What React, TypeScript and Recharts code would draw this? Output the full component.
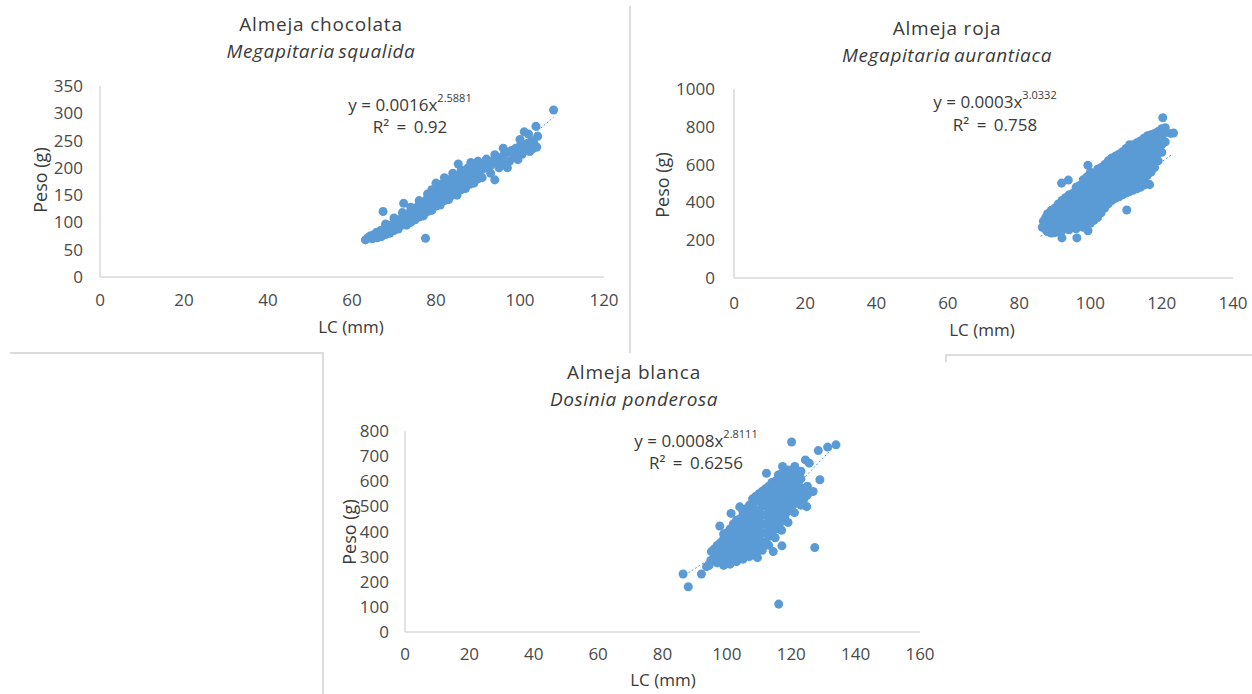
import React from 'react';
import { ScatterChart, Scatter, XAxis, YAxis, ZAxis } from 'recharts';

// ---------- Data ----------
const chocolataXTicks = [0, 20, 40, 60, 80, 100, 120];
const chocolataYTicks = [0, 50, 100, 150, 200, 250, 300, 350];
const chocolataPoints: [number, number][] = [
  [63.2, 68], [63.8, 72], [64.3, 75], [64.8, 70], [65.2, 78], [65.5, 73], [65.9, 82], [66.0, 72], [66.3, 77],
  [66.8, 85], [67.2, 80], [67.4, 120], [67.6, 88], [68.0, 83], [68.0, 78], [68.4, 92], [68.8, 87], [69.2, 95],
  [69.5, 89], [70.0, 98], [70.0, 85], [70.3, 92], [70.7, 103], [71.1, 95], [71.5, 106], [71.8, 99], [72.0, 95],
  [72.3, 135], [72.2, 110], [72.6, 102], [73.0, 114], [73.3, 105], [73.7, 118], [74.0, 108], [74.0, 100],
  [74.4, 122], [74.7, 112], [75.1, 126], [75.4, 115], [75.8, 130], [76.0, 110], [76.1, 119], [76.5, 134],
  [76.8, 122], [77.2, 138], [77.5, 71], [77.5, 126], [77.9, 143], [78.0, 120], [78.2, 129], [78.6, 148],
  [78.9, 133], [79.0, 160], [79.3, 152], [79.6, 137], [80.0, 158], [80.0, 130], [80.3, 140], [80.6, 165],
  [80.9, 145], [81.0, 152], [81.3, 170], [81.6, 148], [82.0, 160], [82.0, 140], [82.3, 152], [82.6, 175],
  [83.0, 157], [83.0, 178], [83.3, 168], [83.7, 162], [84.0, 180], [84.0, 150], [84.3, 165], [84.7, 175],
  [85.0, 168], [85.3, 207], [85.4, 185], [85.8, 172], [86.0, 160], [86.2, 188], [86.5, 176], [86.9, 195],
  [87.2, 180], [87.6, 200], [87.9, 183], [88.0, 170], [88.3, 210], [88.6, 188], [89.0, 198], [89.4, 190],
  [89.8, 205], [90.0, 180], [90.2, 194], [90.6, 208], [91.0, 197], [91.5, 203], [92.0, 200], [92.5, 208],
  [93.0, 204], [93.5, 212], [94.0, 178], [94.0, 224], [94.5, 210], [95.0, 218], [95.5, 214], [96.0, 222],
  [96.5, 205], [97.0, 228], [97.5, 212], [98.0, 232], [98.5, 220], [99.0, 236], [99.5, 215], [100.0, 240],
  [100.5, 225], [101.0, 266], [101.2, 232], [101.8, 245], [102.3, 230], [102.8, 250], [103.3, 245],
  [103.8, 276], [104.0, 238], [104.2, 258], [108.0, 306],
  [67, 74], [68, 97], [69, 80], [70, 108], [71, 88], [72, 118], [73, 95], [74, 128], [75, 105], [76, 140],
  [77, 112], [78, 152], [79, 122], [80, 172], [81, 132], [82, 182], [83, 142], [84, 190], [85, 150],
  [86, 196], [87, 162], [88, 200], [89, 172], [90, 212], [91, 182], [92, 216], [93, 190], [95, 200],
  [97, 200], [99, 226], [101, 242], [103, 235], [102, 262], [100, 252], [96, 236], [94, 216],
];
const chocolataTrend: [number, number][] = [[63, 73], [75, 114], [90, 183], [100, 240], [108, 293]];

const rojaXTicks = [0, 20, 40, 60, 80, 100, 120, 140];
const rojaYTicks = [0, 200, 400, 600, 800, 1000];
const rojaPoints: [number, number][] = [
  [86.5, 268], [86.8, 300],
  [87.5, 255], [87.5, 290], [87.5, 322],
  [88, 245], [88, 280], [88, 315], [88, 340],
  [89, 238], [89, 262], [89, 298], [89, 332], [89, 358],
  [90, 240], [90, 275], [90, 310], [90, 345], [90, 370],
  [91, 245], [91, 290], [91, 328], [91, 362], [91, 392],
  [91.9, 502], [92, 212],
  [92, 250], [92, 290], [92, 330], [92, 370], [92, 410],
  [93, 262], [93, 308], [93, 350], [93, 392], [93, 425],
  [93.8, 518],
  [94, 255], [94, 295], [94, 335], [94, 375], [94, 410], [94, 440],
  [95, 272], [95, 315], [95, 355], [95, 398], [95.2, 450],
  [96.2, 212],
  [96, 260], [96, 300], [96, 340], [96, 380], [96, 420], [96, 460], [96, 480],
  [97, 280], [97, 322], [97, 362], [97, 405], [97, 445], [97, 490],
  [98, 268], [98, 305], [98, 345], [98, 385], [98, 425], [98, 465], [98, 500], [98, 520],
  [99, 288], [99, 325], [99, 368], [99, 410], [99, 450], [99, 492], [99, 535],
  [99.3, 250], [99.3, 596],
  [100, 290], [100, 330], [100, 370], [100, 410], [100, 450], [100, 490], [100, 530], [100, 560],
  [101, 305], [101, 350], [101, 392], [101, 432], [101, 472], [101, 512], [101, 550],
  [102, 320], [102, 360], [102, 400], [102, 440], [102, 480], [102, 520], [102, 560], [102, 575],
  [103, 345], [103, 385], [103, 425], [103, 468], [103, 508], [103, 548], [103, 585],
  [104, 370], [104, 410], [104, 450], [104, 490], [104, 530], [104, 570], [104, 600],
  [105, 392], [105, 432], [105, 472], [105, 512], [105, 552], [105, 592], [105, 620],
  [106, 410], [106, 450], [106, 490], [106, 530], [106, 570], [106, 610], [106, 635],
  [107, 422], [107, 462], [107, 502], [107, 542], [107, 582], [107, 622], [107, 645],
  [108, 430], [108, 470], [108, 510], [108, 550], [108, 590], [108, 630], [108, 655],
  [109, 440], [109, 482], [109, 522], [109, 562], [109, 602], [109, 642], [109, 668],
  [110, 450], [110, 490], [110, 530], [110, 570], [110, 610], [110, 650], [110, 685],
  [110.2, 360],
  [111, 458], [111, 498], [111, 540], [111, 580], [111, 620], [111, 662], [111, 705],
  [112, 465], [112, 505], [112, 545], [112, 585], [112, 625], [112, 665], [112, 705],
  [113, 472], [113, 512], [113, 555], [113, 595], [113, 635], [113, 675], [113, 715],
  [114, 480], [114, 520], [114, 560], [114, 600], [114, 640], [114, 680], [114, 725],
  [115, 492], [115, 535], [115, 575], [115, 615], [115, 660], [115, 700], [115, 740],
  [116, 500], [116, 545], [116, 590], [116, 635], [116, 680], [116, 720], [116, 753],
  [116.6, 494],
  [117, 560], [117, 605], [117, 648], [117, 690], [117, 730], [117, 758],
  [118, 585], [118, 625], [118, 665], [118, 705], [118, 745], [118, 765],
  [119, 620], [119, 660], [119, 700], [119, 740], [119, 775],
  [120, 665], [120, 705], [120, 745], [120, 790],
  [120.3, 848],
  [121, 720], [121, 770], [121, 795],
  [122.5, 765], [123.3, 767],
];
const rojaTrend: [number, number][] = [[86, 221], [100, 350], [123, 655]];

const blancaXTicks = [0, 20, 40, 60, 80, 100, 120, 140, 160];
const blancaYTicks = [0, 100, 200, 300, 400, 500, 600, 700, 800];
const blancaPoints: [number, number][] = [
  [86.4, 231], [88, 180], [92.1, 231], [93.7, 260], [94.5, 265], [95.2, 320], [97.8, 422],
  [101.3, 472], [104, 498], [109.5, 296], [114.4, 320], [116.1, 111], [117.1, 343], [119, 436],
  [127.3, 336], [120.1, 756], [133.9, 745], [131.3, 736], [128.4, 722], [128.9, 606], [126.8, 559],
  [124.8, 499], [124.4, 685], [125.6, 672], [112.3, 632], [117.3, 659], [121.1, 659],
  [95, 285], [96, 295], [96, 330], [97, 275], [97, 310], [97, 345],
  [98, 285], [98, 320], [98, 355],
  [99, 265], [99, 300], [99, 335], [99, 370], [99, 390],
  [100, 280], [100, 320], [100, 355], [100, 395],
  [101, 270], [101, 305], [101, 340], [101, 375], [101, 410],
  [102, 290], [102, 325], [102, 360], [102, 400], [102, 430],
  [103, 280], [103, 315], [103, 350], [103, 385], [103, 420], [103, 445],
  [104, 300], [104, 335], [104, 370], [104, 410], [104, 450],
  [105, 290], [105, 325], [105, 360], [105, 395], [105, 430], [105, 465], [105, 480],
  [106, 310], [106, 345], [106, 385], [106, 420], [106, 460], [106, 490],
  [107, 300], [107, 335], [107, 370], [107, 405], [107, 440], [107, 475], [107, 505],
  [108, 320], [108, 355], [108, 395], [108, 430], [108, 470], [108, 505], [108, 530],
  [109, 310], [109, 345], [109, 380], [109, 415], [109, 450], [109, 485], [109, 520], [109, 540],
  [110, 335], [110, 370], [110, 410], [110, 445], [110, 480], [110, 520], [110, 550],
  [111, 325], [111, 360], [111, 395], [111, 430], [111, 465], [111, 500], [111, 535], [111, 560],
  [112, 355], [112, 395], [112, 430], [112, 465], [112, 505], [112, 545], [112, 570],
  [113, 345], [113, 380], [113, 415], [113, 450], [113, 485], [113, 520], [113, 555], [113, 580],
  [114, 385], [114, 425], [114, 460], [114, 500], [114, 535], [114, 570], [114, 595],
  [115, 375], [115, 410], [115, 445], [115, 480], [115, 515], [115, 550], [115, 585], [115, 600],
  [116, 420], [116, 455], [116, 495], [116, 530], [116, 565], [116, 600], [116, 625],
  [117, 405], [117, 440], [117, 475], [117, 510], [117, 545], [117, 580], [117, 615], [117, 630],
  [118, 460], [118, 495], [118, 530], [118, 565], [118, 600], [118, 635],
  [119, 480], [119, 515], [119, 550], [119, 585], [119, 620], [119, 645],
  [120, 490], [120, 525], [120, 560], [120, 600], [120, 640],
  [121, 475], [121, 510], [121, 545], [121, 580], [121, 615], [121, 650],
  [122, 520], [122, 560], [122, 595], [122, 630],
  [123, 505], [123, 540], [123, 575], [123, 610], [123, 640],
  [124, 530], [124, 570], [125, 545], [125, 580],
];
const blancaTrend: [number, number][] = [[87, 227], [100, 335], [110, 438], [120, 559], [134, 748]];

// ---------- Styles ----------
const FONT = "'Open Sans', 'DejaVu Sans', sans-serif";
const BLUE = '#5B9BD5';
const AXIS = '#d9d9d9';
const TICK = '#4a4a4a';
const TEXT = '#3a3a3a';

const toObj = (arr: [number, number][]) => arr.map(([x, y]) => ({ x, y }));

type PanelProps = {
  left: number; top: number; width: number; height: number;
  margin: { top: number; right: number; bottom: number; left: number };
  yAxisWidth: number;
  xTicks: number[]; yTicks: number[];
  points: [number, number][]; trend: [number, number][];
  tmx: number; tmy: number;
};

const NoShape = () => <g />;

function Panel(p: PanelProps) {
  const xMax = p.xTicks[p.xTicks.length - 1];
  const yMax = p.yTicks[p.yTicks.length - 1];
  const tickStyle = { fill: TICK, fontSize: 17, fontFamily: FONT };
  return (
    <div style={{ position: 'absolute', left: p.left, top: p.top }}>
      <ScatterChart width={p.width} height={p.height} margin={p.margin}>
        <XAxis
          type="number" dataKey="x" domain={[0, xMax]} ticks={p.xTicks} interval={0}
          axisLine={{ stroke: AXIS, strokeWidth: 1.5 }} tickLine={false} tickMargin={p.tmx}
          height={30} tick={tickStyle}
        />
        <YAxis
          type="number" dataKey="y" domain={[0, yMax]} ticks={p.yTicks} interval={0}
          axisLine={{ stroke: AXIS, strokeWidth: 1.5 }} tickLine={false} tickMargin={p.tmy}
          width={p.yAxisWidth} tick={tickStyle}
        />
        <ZAxis range={[72, 72]} />
        <Scatter data={toObj(p.points)} fill={BLUE} isAnimationActive={false} />
        <Scatter
          data={toObj(p.trend)} fill="none" shape={NoShape} isAnimationActive={false}
          line={{ stroke: BLUE, strokeWidth: 1, strokeDasharray: '2 2' }}
        />
      </ScatterChart>
    </div>
  );
}

function CenterText(props: { x: number; y: number; size: number; italic?: boolean; spacing?: number; letter?: number; children: React.ReactNode }) {
  const lh = Math.round(props.size * 1.05);
  return (
    <div
      style={{
        position: 'absolute', left: props.x, top: props.y - lh / 2, transform: 'translateX(-50%)',
        whiteSpace: 'nowrap', fontFamily: FONT, fontSize: props.size, lineHeight: `${lh}px`,
        fontStyle: props.italic ? 'italic' : 'normal', color: TEXT, wordSpacing: props.spacing ?? 0,
        letterSpacing: props.letter ?? 0,
      }}
    >
      {props.children}
    </div>
  );
}

function VText(props: { x: number; y: number; children: React.ReactNode }) {
  return (
    <div
      style={{
        position: 'absolute', left: props.x, top: props.y, transform: 'translate(-50%, -50%) rotate(-90deg)',
        whiteSpace: 'nowrap', fontFamily: FONT, fontSize: 18, lineHeight: '20px', color: TEXT,
      }}
    >
      {props.children}
    </div>
  );
}

function Eq(props: { x: number; y1: number; y2: number; coef: string; exp: string; r2: string }) {
  return (
    <>
      <CenterText x={props.x} y={props.y1} size={17}>
        y = {props.coef}x<sup style={{ fontSize: 11, verticalAlign: 'top', lineHeight: '12px', position: 'relative', top: -4 }}>{props.exp}</sup>
      </CenterText>
      <CenterText x={props.x} y={props.y2} size={17} spacing={3}>
        R² = {props.r2}
      </CenterText>
    </>
  );
}

const Line = (props: { left: number; top: number; width: number; height: number }) => (
  <div style={{ position: 'absolute', left: props.left, top: props.top, width: props.width, height: props.height, background: '#dcdcdc' }} />
);

export default function App() {
  return (
    <div style={{ position: 'absolute', left: 0, top: 0, width: 1252, height: 694, background: '#fff', overflow: 'hidden' }}>
      {/* frame lines */}
      <Line left={629} top={6} width={2} height={347} />
      <Line left={10} top={352} width={314} height={2} />
      <Line left={322} top={352} width={2} height={342} />
      <Line left={946} top={354} width={306} height={2} />
      <Line left={945} top={354} width={2} height={8} />

      <Panel
        left={0} top={0} width={620} height={340}
        margin={{ top: 86, right: 16, bottom: 33, left: 60 }} yAxisWidth={40}
        xTicks={chocolataXTicks} yTicks={chocolataYTicks}
        points={chocolataPoints} trend={chocolataTrend} tmx={11} tmy={11}
      />
      <Panel
        left={630} top={0} width={622} height={345}
        margin={{ top: 89, right: 19, bottom: 37, left: 54 }} yAxisWidth={50}
        xTicks={rojaXTicks} yTicks={rojaYTicks}
        points={rojaPoints} trend={rojaTrend} tmx={13} tmy={13}
      />
      <Panel
        left={324} top={355} width={640} height={339}
        margin={{ top: 76, right: 44, bottom: 32, left: 36 }} yAxisWidth={45}
        xTicks={blancaXTicks} yTicks={blancaYTicks}
        points={blancaPoints} trend={blancaTrend} tmx={10} tmy={10}
      />

      {/* titles */}
      <CenterText x={321} y={24} size={19} letter={0.8}>Almeja chocolata</CenterText>
      <CenterText x={321} y={51} size={19} italic letter={0.6} spacing={-2}>Megapitaria squalida</CenterText>
      <CenterText x={947} y={28} size={19} letter={0.8}>Almeja roja</CenterText>
      <CenterText x={947} y={55} size={19} italic letter={0.6} spacing={-2}>Megapitaria aurantiaca</CenterText>
      <CenterText x={634} y={372} size={19} letter={0.8}>Almeja blanca</CenterText>
      <CenterText x={634} y={399} size={19} italic letter={0.6}>Dosinia ponderosa</CenterText>

      {/* equations */}
      <Eq x={410} y1={105} y2={127} coef="0.0016" exp="2.5881" r2="0.92" />
      <Eq x={995} y1={102} y2={125} coef="0.0003" exp="3.0332" r2="0.758" />
      <Eq x={696} y1={441} y2={463} coef="0.0008" exp="2.8111" r2="0.6256" />

      {/* axis titles */}
      <CenterText x={351} y={327} size={17}>LC (mm)</CenterText>
      <CenterText x={982} y={330} size={17}>LC (mm)</CenterText>
      <CenterText x={663} y={680} size={17}>LC (mm)</CenterText>
      <VText x={40} y={180}>Peso (g)</VText>
      <VText x={662} y={185}>Peso (g)</VText>
      <VText x={349} y={532}>Peso (g)</VText>
    </div>
  );
}
